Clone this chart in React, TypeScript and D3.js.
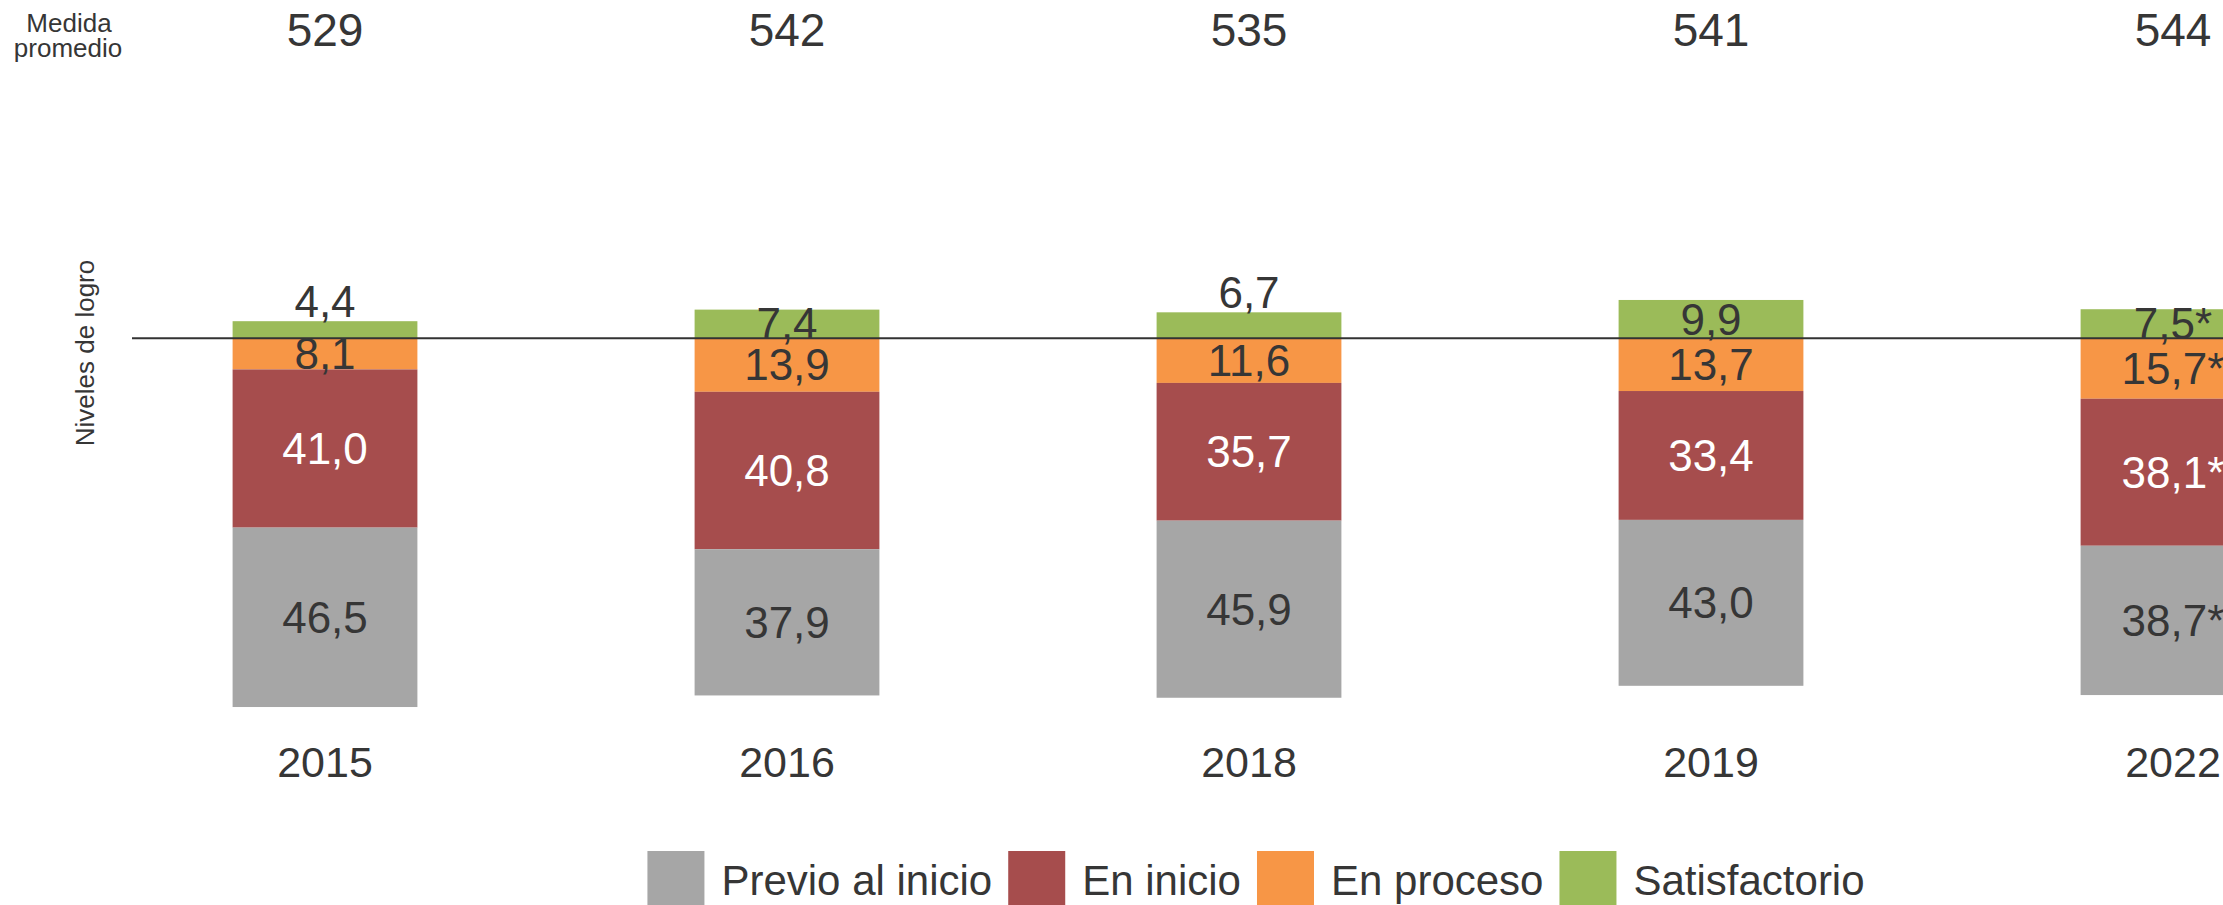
import React, { useEffect, useRef } from "react";
import * as d3 from "d3";

// data
const years = ["2015", "2016", "2018", "2019", "2022"];
const medidaPromedio = [529, 542, 535, 541, 544];
const previoAlInicio = [46.5, 37.9, 45.9, 43.0, 38.7];
const enInicio = [41.0, 40.8, 35.7, 33.4, 38.1];
const enProceso = [8.1, 13.9, 11.6, 13.7, 15.7];
const satisfactorio = [4.4, 7.4, 6.7, 9.9, 7.5];
const conAsterisco = [false, false, false, false, true];

const seriesKeys = ["proceso", "inicio", "previo", "satisf"];
const legendLabels = ["Previo al inicio", "En inicio", "En proceso", "Satisfactorio"];
const legendKeys = ["previo", "inicio", "proceso", "satisf"];

const colors: Record<string, string> = {
  previo: "#a6a6a6",
  inicio: "#a64d4d",
  proceso: "#f79646",
  satisf: "#9bbb59",
};

const W = 2223;
const H = 905;
const FONT = "'Liberation Sans', Arial, sans-serif";
const TXT = "#363636";

const App = () => {
  const svgRef = useRef<SVGSVGElement>(null);

  useEffect(() => {
    const svg = d3.select(svgRef.current);
    svg.selectAll("*").remove();

    const fmt = d3
      .formatLocale({ decimal: ",", thousands: ".", grouping: [3], currency: ["", ""] })
      .format(".1f");

    const rows = years.map((y, i) => ({
      year: y,
      previo: -previoAlInicio[i],
      inicio: -enInicio[i],
      proceso: -enProceso[i],
      satisf: satisfactorio[i],
      star: conAsterisco[i],
    }));

    const x = d3.scaleBand().domain(years).range([94, 2404]).paddingInner(0.6).paddingOuter(0.3);
    const y = d3.scaleLinear().domain([-100, 20]).range([724, 261]);

    const stacked = d3
      .stack<any>()
      .keys(seriesKeys)
      .offset(d3.stackOffsetDiverging)(rows);

    const g = svg.append("g");

    // bars
    stacked.forEach((layer) => {
      const key = layer.key;
      g.selectAll(`.bar-${key}`)
        .data(layer)
        .join("rect")
        .attr("x", (d: any) => x(d.data.year)!)
        .attr("width", x.bandwidth())
        .attr("y", (d: any) => y(Math.max(d[0], d[1])))
        .attr("height", (d: any) => Math.abs(y(d[0]) - y(d[1])))
        .attr("fill", colors[key]);
    });

    // baseline
    g.append("line")
      .attr("x1", 132)
      .attr("x2", W)
      .attr("y1", y(0))
      .attr("y2", y(0))
      .attr("stroke", "#333")
      .attr("stroke-width", 2);

    // segment labels
    stacked.forEach((layer) => {
      const key = layer.key;
      g.selectAll(`.lbl-${key}`)
        .data(layer)
        .join("text")
        .attr("x", (d: any) => x(d.data.year)! + x.bandwidth() / 2)
        .attr("y", (d: any) => {
          const top = y(Math.max(d[0], d[1]));
          const bot = y(Math.min(d[0], d[1]));
          const v = Math.abs(d[1] - d[0]);
          if (key === "satisf" && v < 7) return top - 4;
          return (top + bot) / 2 + 15.5;
        })
        .attr("text-anchor", "middle")
        .style("font-family", FONT)
        .style("font-size", "44px")
        .attr("fill", key === "inicio" ? "#ffffff" : TXT)
        .text((d: any) => fmt(Math.abs(d[1] - d[0])) + (d.data.star ? "*" : ""));
    });

    // year labels
    g.selectAll(".year")
      .data(years)
      .join("text")
      .attr("x", (d) => x(d)! + x.bandwidth() / 2)
      .attr("y", 777)
      .attr("text-anchor", "middle")
      .style("font-family", FONT)
      .style("font-size", "43px")
      .attr("fill", TXT)
      .text((d) => d);

    // medida promedio row
    g.selectAll(".medida")
      .data(years)
      .join("text")
      .attr("x", (d) => x(d)! + x.bandwidth() / 2)
      .attr("y", 46)
      .attr("text-anchor", "middle")
      .style("font-family", FONT)
      .style("font-size", "46px")
      .attr("fill", TXT)
      .text((d, i) => medidaPromedio[i]);

    const mp = g
      .append("text")
      .attr("text-anchor", "middle")
      .style("font-family", FONT)
      .style("font-size", "26px")
      .attr("fill", TXT);
    mp.append("tspan").attr("x", 69).attr("y", 32).text("Medida");
    mp.append("tspan").attr("x", 68).attr("y", 57).text("promedio");

    // y axis title
    g.append("text")
      .attr("transform", "translate(94,353) rotate(-90)")
      .attr("text-anchor", "middle")
      .style("font-family", FONT)
      .style("font-size", "26px")
      .attr("fill", TXT)
      .text("Niveles de logro");

    // legend
    const sw = 57;
    const legend = g.append("g");
    const items = legendKeys.map((k, i) => {
      const it = legend.append("g");
      it.append("rect").attr("width", sw).attr("height", sw).attr("y", 851).attr("fill", colors[k]);
      const t = it
        .append("text")
        .attr("x", sw + 17)
        .attr("y", 895)
        .style("font-family", FONT)
        .style("font-size", "42px")
        .attr("fill", TXT)
        .text(legendLabels[i]);
      return { it, w: sw + 17 + (t.node() as SVGTextElement).getComputedTextLength() };
    });
    const gap = 16;
    const total = d3.sum(items, (d) => d.w) + gap * (items.length - 1);
    let cx = 1256 - total / 2;
    items.forEach((d) => {
      d.it.attr("transform", `translate(${cx},0)`);
      cx += d.w + gap;
    });
  }, []);

  return (
    <svg
      ref={svgRef}
      width={W}
      height={H}
      style={{ position: "absolute", left: 0, top: 0, background: "#fff" }}
    />
  );
};

export default App;
